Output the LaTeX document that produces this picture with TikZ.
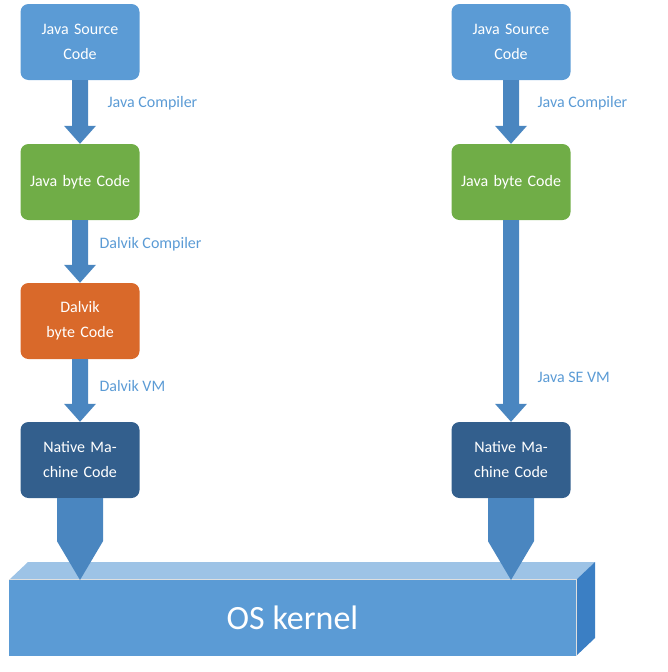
\documentclass[tikz,border=0pt]{standalone}
\usepackage{fontspec}
\setmainfont{Carlito}
\usetikzlibrary{calc,positioning}
\definecolor{srcblue}{HTML}{5B9BD5}
\definecolor{bytegreen}{HTML}{70AD47}
\definecolor{dalvorange}{HTML}{D9692A}
\definecolor{nativeblue}{HTML}{335F8D}
\definecolor{arrowblue}{HTML}{4A86C0}
\definecolor{topblue}{HTML}{9DC3E6}
\definecolor{sideblue}{HTML}{3B7FC4}
\tikzset{
  box/.style={rounded corners=8pt, minimum width=119pt, minimum height=76pt, text width=110pt,
    align=center, text=white, font=\fontsize{16}{25}\selectfont, inner sep=0pt},
  lbl/.style={text=srcblue, font=\fontsize{16}{19}\selectfont, anchor=west},
  arr/.style={fill=arrowblue, draw=none}
}
% thin block arrow: from south of #1 to north of #2
\newcommand{\blockarrow}[2]{
  \fill[arr] ($(#1.south)+(-8,0)$) -- ($(#2.north)+(-8,-18)$) -- ($(#2.north)+(-16,-18)$)
    -- (#2.north) -- ($(#2.north)+(16,-18)$) -- ($(#2.north)+(8,-18)$) -- ($(#1.south)+(8,0)$) -- cycle;
}
\begin{document}
\begin{tikzpicture}[x=1pt,y=-1pt]
\useasboundingbox (0,0) rectangle (667,672);
% left column
\node[box, fill=srcblue] (jsrcL) at (80,42) {Java Source Code};
\node[box, fill=bytegreen] (jbyteL) at (80,182) {Java byte Code};
\node[box, fill=dalvorange] (dbyteL) at (80,321) {Dalvik byte Code};
\node[box, fill=nativeblue] (natL) at (80,460) {Native Machine Code};
% right column
\node[box, fill=srcblue] (jsrcR) at (511,42) {Java Source Code};
\node[box, fill=bytegreen] (jbyteR) at (511,182) {Java byte Code};
\node[box, fill=nativeblue] (natR) at (511,460) {Native Machine Code};

\blockarrow{jsrcL}{jbyteL}
\blockarrow{jbyteL}{dbyteL}
\blockarrow{dbyteL}{natL}
\blockarrow{jsrcR}{jbyteR}
\blockarrow{jbyteR}{natR}

\node[lbl] at (104,103) {Java Compiler};
\node[lbl] at (96,244) {Dalvik Compiler};
\node[lbl] at (96,386) {Dalvik VM};
\node[lbl] at (534,103) {Java Compiler};
\node[lbl] at (534,377) {Java SE VM};

% OS kernel block
\fill[topblue] (9,580) -- (28,562) -- (595,562) -- (576,580) -- cycle;
\fill[sideblue] (576,580) -- (595,562) -- (595,638) -- (576,656) -- cycle;
\node[fill=srcblue, minimum width=567pt, minimum height=76pt, inner sep=0pt, text=white,
  font=\fontsize{34}{40}\selectfont] (os) at (292.5,618) {OS kernel};
\draw[white!75!gray, line width=0.8pt] (os.north west) -- (os.north east) -- (os.south east);

% wide arrows into kernel
\coordinate (tipL) at (80,580);
\coordinate (tipR) at (511,580);
\fill[arr] ($(natL.south)+(-23,0)$) -- ($(natL.south)+(-23,43)$) -- (tipL)
  -- ($(natL.south)+(23,43)$) -- ($(natL.south)+(23,0)$) -- cycle;
\fill[arr] ($(natR.south)+(-23,0)$) -- ($(natR.south)+(-23,43)$) -- (tipR)
  -- ($(natR.south)+(23,43)$) -- ($(natR.south)+(23,0)$) -- cycle;
\end{tikzpicture}
\end{document}
